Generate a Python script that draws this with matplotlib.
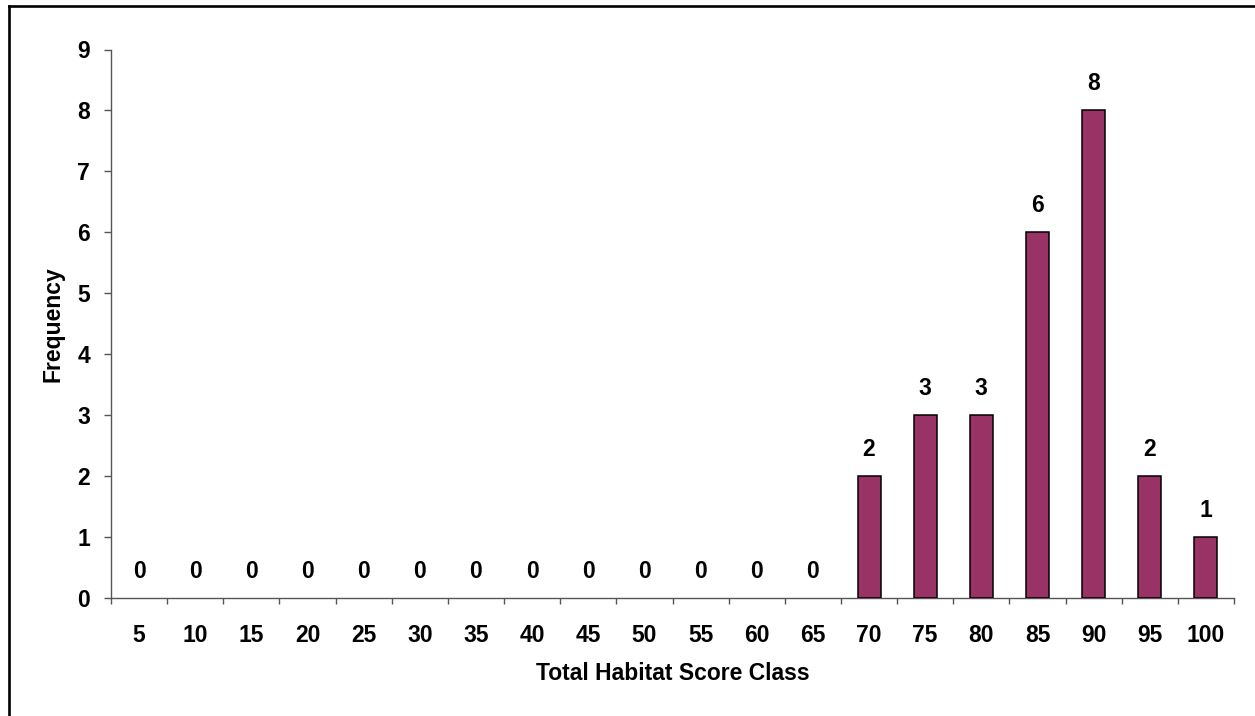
import matplotlib
matplotlib.use("Agg")
import matplotlib.pyplot as plt
from matplotlib.lines import Line2D
from matplotlib.ticker import FixedLocator
import numpy as np

# Habitat score classes and how many sites fell into each
score_classes = [5, 10, 15, 20, 25, 30, 35, 40, 45, 50,
                 55, 60, 65, 70, 75, 80, 85, 90, 95, 100]
frequency = [0, 0, 0, 0, 0, 0, 0, 0, 0, 0,
             0, 0, 0, 2, 3, 3, 6, 8, 2, 1]
y_ticks = list(range(0, 10))

plt.rcParams["font.family"] = ["Liberation Sans", "DejaVu Sans"]
plt.rcParams["font.weight"] = "bold"
FS = 16.5

W, H = 1255, 716
fig = plt.figure(figsize=(W / 100, H / 100), dpi=100)
ax = fig.add_axes([111 / W, 1 - 598 / H, (1234 - 111) / W, (598 - 49.5) / H])

pos = np.arange(len(score_classes))
edge_cols = ["black" if v > 0 else "none" for v in frequency]
bars = ax.bar(pos, frequency, width=0.41, color="#993366",
              edgecolor=edge_cols, linewidth=1.1, zorder=3)

for rect, v in zip(bars, frequency):
    ax.annotate(f"{v}", (rect.get_x() + rect.get_width() / 2, v),
                xytext=(0, 11), textcoords="offset points",
                ha="center", va="bottom", fontsize=FS, fontweight="bold")

ax.set_xlim(-0.5, len(score_classes) - 0.5)
ax.set_ylim(0, 9)

axis_col = "#555555"
for side in ("top", "right"):
    ax.spines[side].set_visible(False)
for side in ("left", "bottom"):
    ax.spines[side].set_color(axis_col)
    ax.spines[side].set_linewidth(1.0)

# category labels centred, tick marks on the class boundaries
ax.set_xticks(pos)
ax.set_xticklabels([str(c) for c in score_classes], fontsize=FS, fontweight="bold")
ax.tick_params(axis="x", which="major", length=0, pad=19)
ax.xaxis.set_minor_locator(FixedLocator(np.arange(-0.5, len(score_classes), 1.0)))
ax.tick_params(axis="x", which="minor", length=4.5, width=1.0, color=axis_col,
               direction="out")

ax.set_yticks(y_ticks)
ax.set_yticklabels([str(t) for t in y_ticks], fontsize=FS, fontweight="bold")
ax.tick_params(axis="y", length=5, width=1.0, color=axis_col, pad=10,
               direction="out")

fig.text(53 / W, 1 - 324 / H, "Frequency", rotation=90, ha="center",
         va="center", fontsize=FS, fontweight="bold")
fig.text(672.5 / W, 1 - 674 / H, "Total Habitat Score Class", ha="center",
         va="center", fontsize=FS, fontweight="bold")

# chart frame (top and left edges)
fig.add_artist(Line2D([8.5 / W, 1.0], [1 - 6 / H, 1 - 6 / H],
                      transform=fig.transFigure, color="black", linewidth=1.9))
fig.add_artist(Line2D([8.5 / W, 8.5 / W], [1 - 6 / H, 0.0],
                      transform=fig.transFigure, color="black", linewidth=1.9,
                      solid_capstyle="projecting"))

fig.savefig("out.png", dpi=100, facecolor="white")
